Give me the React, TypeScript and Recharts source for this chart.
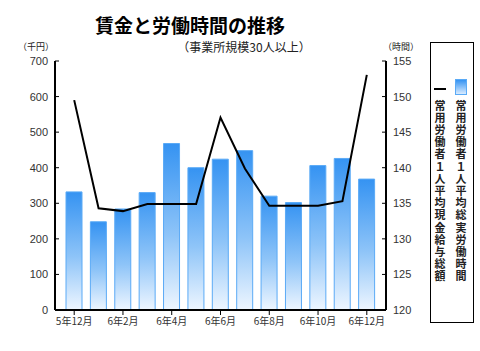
import { ComposedChart, Bar, Line, XAxis, YAxis } from 'recharts'

const months = ['5年12月', '6年1月', '6年2月', '6年3月', '6年4月', '6年5月', '6年6月', '6年7月', '6年8月', '6年9月', '6年10月', '6年11月', '6年12月']
// 常用労働者1人平均現金給与総額 (千円)
const wages = [590, 286, 278, 298, 298, 298, 541, 398, 293, 293, 293, 306, 661]
// 常用労働者1人平均総実労働時間 (時間)
const hours = [136.6, 132.4, 134.2, 136.5, 143.4, 140.0, 141.2, 142.4, 136.0, 135.1, 140.3, 141.3, 138.4]
const wageTicks = [0, 100, 200, 300, 400, 500, 600, 700]
const hourTicks = [120, 125, 130, 135, 140, 145, 150, 155]

const data = months.map((m, i) => ({ month: m, wage: wages[i], hour: hours[i] }))

const NUM_FONT = '"Liberation Sans", Arial, sans-serif'
const JP_FONT = '"Noto Sans CJK JP", sans-serif'

const LeftTick = (props: any) => {
    const { x, y, payload } = props
    return <g>
        <line x1={x + 7} x2={x + 11} y1={y} y2={y} stroke="#000" strokeWidth={1} />
        <text x={x} y={y} dy={4} textAnchor="end" fontSize={11} fill="#333" fontFamily={NUM_FONT}>{payload.value}</text>
    </g>
}

const RightTick = (props: any) => {
    const { x, y, payload } = props
    return <g>
        <line x1={x - 11} x2={x - 7} y1={y} y2={y} stroke="#000" strokeWidth={1} />
        <text x={x} y={y} dy={4} textAnchor="start" fontSize={11} fill="#333" fontFamily={NUM_FONT}>{payload.value}</text>
    </g>
}

export default function App() {
    return <div style={{ position: 'absolute', left: 0, top: 0, width: 480, height: 351, background: '#fff' }}>
        <div style={{ position: 'absolute', left: 90, top: 13, width: 200, textAlign: 'center', fontFamily: JP_FONT, fontWeight: 'bold', fontSize: 19, lineHeight: '24px', color: '#000' }}>賃金と労働時間の推移</div>
        <div style={{ position: 'absolute', left: 164, top: 39, width: 160, textAlign: 'center', fontFamily: JP_FONT, fontSize: 12, lineHeight: '16px', color: '#222' }}>（事業所規模30人以上）</div>
        <div style={{ position: 'absolute', left: 18, top: 41, fontFamily: JP_FONT, fontSize: 9, lineHeight: '12px', color: '#222' }}>（千円）</div>
        <div style={{ position: 'absolute', left: 383, top: 41, fontFamily: JP_FONT, fontSize: 9, lineHeight: '12px', color: '#222' }}>（時間）</div>

        <ComposedChart width={480} height={351} data={data} margin={{ top: 61, right: 54, bottom: 16, left: 0 }}>
            <defs>
                <linearGradient id="barGrad" x1="0" y1="0" x2="0" y2="1">
                    <stop offset="0%" stopColor="#3593f2" />
                    <stop offset="55%" stopColor="#8ec4f8" />
                    <stop offset="100%" stopColor="#eef6ff" />
                </linearGradient>
            </defs>
            <XAxis dataKey="month" interval={1} tickSize={5} tickMargin={3} height={25}
                padding={{ left: 7, right: 7 }}
                axisLine={{ stroke: '#000', strokeWidth: 2 }} tickLine={{ stroke: '#000' }}
                tick={{ fontSize: 10, fill: '#333', fontFamily: JP_FONT }} />
            <XAxis xAxisId="top" dataKey="month" orientation="top" height={0} tick={false} tickLine={false}
                axisLine={{ stroke: '#000', strokeWidth: 2 }} />
            <YAxis yAxisId="wage" domain={[0, 700]} ticks={wageTicks} width={55} interval={0}
                tickSize={0} tickMargin={7} tick={LeftTick}
                axisLine={{ stroke: '#000', strokeWidth: 2 }} />
            <YAxis yAxisId="hour" orientation="right" domain={[120, 155]} ticks={hourTicks} width={40} interval={0}
                tickSize={0} tickMargin={7} tick={RightTick}
                axisLine={{ stroke: '#000', strokeWidth: 2 }} />
            <Bar yAxisId="hour" dataKey="hour" barSize={16} fill="url(#barGrad)" stroke="#5aaaf6" strokeWidth={1} isAnimationActive={false} />
            <Line yAxisId="wage" dataKey="wage" type="linear" stroke="#000" strokeWidth={2} dot={false} activeDot={false} isAnimationActive={false} />
        </ComposedChart>

        <div style={{ position: 'absolute', left: 430, top: 42, width: 44, height: 281, border: '1px solid #000', boxSizing: 'border-box', background: '#fff' }}>
            <div style={{ position: 'absolute', left: 3, top: 45, width: 12, height: 2, background: '#000' }} />
            <div style={{ position: 'absolute', left: 24, top: 36, width: 12, height: 16, background: 'linear-gradient(#3593f2, #d8ebff)', border: '1px solid #5aaaf6', boxSizing: 'border-box' }} />
            <div style={{ position: 'absolute', left: 3, top: 57, writingMode: 'vertical-rl', fontFamily: JP_FONT, fontWeight: 'bold', fontSize: 11, lineHeight: '12px', letterSpacing: 1.2, color: '#222' }}>常用労働者１人平均現金給与総額</div>
            <div style={{ position: 'absolute', left: 24, top: 57, writingMode: 'vertical-rl', fontFamily: JP_FONT, fontWeight: 'bold', fontSize: 11, lineHeight: '12px', letterSpacing: 1.2, color: '#222' }}>常用労働者１人平均総実労働時間</div>
        </div>
    </div>
}
